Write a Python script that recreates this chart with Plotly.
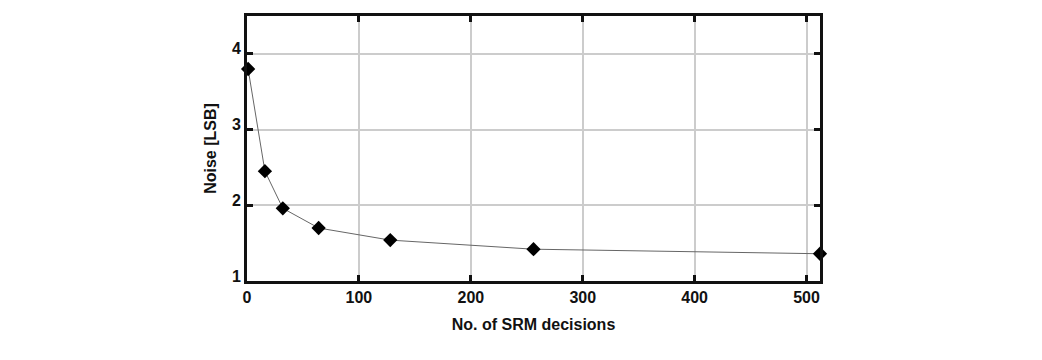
import plotly.graph_objects as go

decisions = [1, 16, 32, 64, 128, 256, 512]
noise_lsb = [3.80, 2.45, 1.96, 1.70, 1.54, 1.42, 1.36]

x_ticks = [0, 100, 200, 300, 400, 500]
y_ticks = [1, 2, 3, 4]

font_family = "Liberation Sans Narrow, Arial Narrow, Liberation Sans, Arial, sans-serif"

fig = go.Figure()
fig.add_trace(go.Scatter(
    x=decisions, y=noise_lsb, mode="lines+markers",
    line=dict(color="#666666", width=1),
    marker=dict(symbol="diamond", size=11, color="black"),
    showlegend=False, cliponaxis=False, hoverinfo="skip",
))

axis_common = dict(
    showline=True, linecolor="#111111", linewidth=3, mirror="ticks",
    ticks="inside", ticklen=6, tickwidth=3, tickcolor="#111111",
    showgrid=True, gridcolor="#cccccc", gridwidth=2, zeroline=False,
    automargin=False,
    tickfont=dict(family=font_family, size=16, color="#111111"),
)

fig.update_layout(
    width=1042, height=360,
    margin=dict(l=247, r=222, t=16, b=79),
    paper_bgcolor="white", plot_bgcolor="white",
    font=dict(family=font_family, color="#111111", size=16),
    xaxis=dict(range=[0, 512], tickvals=x_ticks,
               ticktext=[f"<b>{v}</b>" for v in x_ticks],
               title=dict(text="<b>No. of SRM decisions</b>", font=dict(size=16), standoff=14),
               **axis_common),
    yaxis=dict(range=[1, 4.5], tickvals=y_ticks,
               ticktext=[f"<b>{v}</b>" for v in y_ticks],
               ticklabelshift=-5,
               title=dict(text="<b>Noise [LSB]</b>", font=dict(size=16), standoff=12),
               **axis_common),
)

fig.write_html("out.html", config={"displayModeBar": False, "staticPlot": True},
               post_script="document.body.style.margin='0';")
